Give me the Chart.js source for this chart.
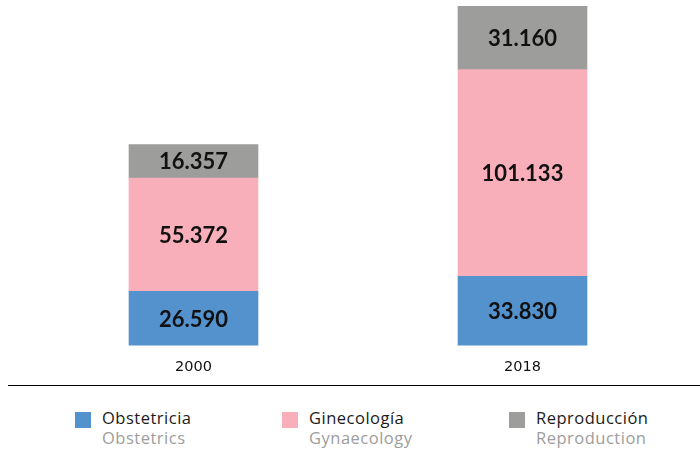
<!DOCTYPE html>
<html>
<head>
<meta charset="utf-8">
<script src="https://cdn.jsdelivr.net/npm/chart.js@4"></script>
<style>
  body { margin: 0; background: #fff; }
  #wrap { position: relative; width: 700px; height: 461px; }
  #chartBox { position: absolute; left: 0; top: 0; width: 700px; height: 389px; }
  #rule { position: absolute; left: 8px; top: 385px; width: 692px; height: 0; border-top: 1.5px solid #000; }
  .item { position: absolute; top: 408px; font-family: "Open Sans", sans-serif; font-size: 16.5px; letter-spacing: 0.5px; line-height: 20px; }
  .item .sw { position: absolute; left: 0; top: 4px; width: 16px; height: 16px; }
  .item .txt { position: absolute; left: 27px; top: 0; white-space: nowrap; }
  .item .es { color: #1a1a1a; }
  .item .en { color: #9d9d9c; }
</style>
</head>
<body>
<div id="wrap">
  <div id="chartBox"><canvas id="stackChart"></canvas></div>
  <div id="rule"></div>
  <div id="legend"></div>
</div>
<script>
// categories and series
const years = ['2000', '2018'];
const obstetricia = [26590, 33830];
const ginecologia = [55372, 101133];
const reproduccion = [16357, 31160];

const seriesNames = ['Obstetricia', 'Ginecología', 'Reproducción'];
const seriesNamesEn = ['Obstetrics', 'Gynaecology', 'Reproduction'];
const seriesColors = ['#5492ce', '#f8afba', '#9d9d9c'];

// number format with dot as thousands separator
function formatNum(v) {
  return String(v).replace(/\B(?=(\d{3})+(?!\d))/g, '.');
}

// draw values in the middle of each bar segment
const valueLabels = {
  id: 'valueLabels',
  afterDatasetsDraw(chart) {
    const ctx = chart.ctx;
    ctx.save();
    ctx.font = 'bold 22px Lato, sans-serif';
    ctx.fillStyle = '#111';
    ctx.textAlign = 'center';
    ctx.textBaseline = 'middle';
    chart.data.datasets.forEach((ds, i) => {
      chart.getDatasetMeta(i).data.forEach((bar, j) => {
        const p = bar.getProps(['x', 'y', 'base'], true);
        ctx.fillText(formatNum(ds.data[j]), p.x, (p.y + p.base) / 2 + 1);
      });
    });
    ctx.restore();
  }
};

const totalMax = Math.max(...years.map((y, i) => obstetricia[i] + ginecologia[i] + reproduccion[i]));

const ctx = document.getElementById('stackChart').getContext('2d');
new Chart(ctx, {
  type: 'bar',
  data: {
    labels: years,
    datasets: [
      { label: seriesNames[0], data: obstetricia, backgroundColor: seriesColors[0] },
      { label: seriesNames[1], data: ginecologia, backgroundColor: seriesColors[1] },
      { label: seriesNames[2], data: reproduccion, backgroundColor: seriesColors[2] }
    ]
  },
  options: {
    responsive: true,
    maintainAspectRatio: false,
    animation: false,
    layout: { padding: { left: 29, right: 13, top: 6, bottom: 0 } },
    datasets: { bar: { barThickness: 129 } },
    scales: {
      x: {
        stacked: true,
        grid: { display: false, drawTicks: false },
        border: { display: false },
        ticks: { color: '#111', padding: 13, font: { family: 'DejaVu Sans', size: 14.5 } }
      },
      y: {
        stacked: true,
        display: false,
        min: 0,
        max: totalMax
      }
    },
    plugins: {
      legend: { display: false },
      tooltip: { enabled: false }
    }
  },
  plugins: [valueLabels]
});

// legend below the line, two languages per entry
const legendLeft = [75, 282, 509];
const legend = document.getElementById('legend');
seriesNames.forEach((name, i) => {
  const el = document.createElement('div');
  el.className = 'item';
  el.style.left = legendLeft[i] + 'px';
  el.innerHTML = '<div class="sw" style="background:' + seriesColors[i] + '"></div>' +
    '<div class="txt"><div class="es">' + name + '</div><div class="en">' + seriesNamesEn[i] + '</div></div>';
  legend.appendChild(el);
});
</script>
</body>
</html>
